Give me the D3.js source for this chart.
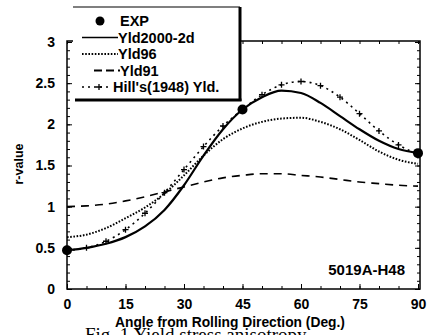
<!DOCTYPE html>
<html>
<head>
<meta charset="utf-8">
<script src="https://cdn.jsdelivr.net/npm/d3@7"></script>
<style>
  html, body { margin: 0; padding: 0; background: #fff; }
  svg { display: block; }
  text { font-family: "Liberation Sans", Arial, sans-serif; font-weight: bold; fill: #000; }
</style>
</head>
<body>
<div id="chart"></div>
<script>
// angles (deg from rolling direction)
const angles = [0, 5, 10, 15, 20, 25, 30, 35, 40, 45, 50, 55, 60, 65, 70, 75, 80, 85, 90];

const yld2000 = [0.47, 0.50, 0.55, 0.63, 0.76, 0.96, 1.26, 1.62, 1.94, 2.18, 2.33, 2.41, 2.38, 2.26, 2.10, 1.94, 1.80, 1.70, 1.65];
const yld96   = [0.63, 0.66, 0.74, 0.86, 0.99, 1.16, 1.38, 1.62, 1.82, 1.95, 2.03, 2.07, 2.08, 2.03, 1.94, 1.81, 1.67, 1.57, 1.52];
const yld91   = [1.00, 1.01, 1.03, 1.07, 1.12, 1.18, 1.24, 1.30, 1.35, 1.38, 1.40, 1.40, 1.38, 1.36, 1.33, 1.30, 1.28, 1.26, 1.25];
const hill48  = [0.47, 0.50, 0.58, 0.72, 0.92, 1.17, 1.45, 1.73, 1.98, 2.18, 2.36, 2.48, 2.52, 2.47, 2.33, 2.13, 1.92, 1.75, 1.64];

const expAngles = [0, 45, 90];
const expValues = [0.47, 2.18, 1.65];

const xTicks = [0, 15, 30, 45, 60, 75, 90];
const yTicks = [0, 0.5, 1, 1.5, 2, 2.5, 3];

const legendLabels = ['EXP', 'Yld2000-2d', 'Yld96', 'Yld91', "Hill's(1948) Yld."];

const W = 432, H = 335;
const svg = d3.select('#chart').append('svg').attr('width', W).attr('height', H);

const x = d3.scaleLinear().domain([0, 90]).range([67, 418]);
const y = d3.scaleLinear().domain([0, 3]).range([289, 42]);

const frame = { left: 67, right: 420, top: 41, bottom: 289 };

// axes with inward ticks
const gx = svg.append('g').attr('transform', `translate(0,${frame.bottom})`)
  .call(d3.axisBottom(x).tickValues(xTicks).tickSize(-5).tickPadding(10).tickFormat(d3.format('d')));
svg.append('g').attr('transform', `translate(0,${frame.bottom})`)
  .call(d3.axisBottom(x).tickValues(d3.range(0, 91, 5)).tickSize(-3).tickFormat(''));
const gy = svg.append('g').attr('transform', `translate(${frame.left},0)`)
  .call(d3.axisLeft(y).tickValues(yTicks).tickSize(-5).tickPadding(12).tickFormat(d => d));
svg.append('g').attr('transform', `translate(${frame.left},0)`)
  .call(d3.axisLeft(y).tickValues(d3.range(0, 3.01, 0.1)).tickSize(-3).tickFormat(''));
svg.append('g').attr('transform', `translate(${frame.right},0)`)
  .call(d3.axisRight(y).tickValues(yTicks).tickSize(-5).tickFormat(''));
svg.append('g').attr('transform', `translate(${frame.right},0)`)
  .call(d3.axisRight(y).tickValues(d3.range(0, 3.01, 0.1)).tickSize(-3).tickFormat(''));
svg.append('g').attr('transform', `translate(0,${frame.top})`)
  .call(d3.axisTop(x).tickValues(d3.range(0, 91, 5)).tickSize(-3).tickFormat(''));

svg.selectAll('.domain').remove();
svg.selectAll('.tick line').attr('stroke', '#000').attr('stroke-width', 1);
[gx, gy].forEach(g => g.selectAll('text')
  .attr('font-size', 14)
  .attr('font-family', '"Liberation Sans", Arial, sans-serif')
  .attr('font-weight', 'bold'));

// frame
svg.append('rect')
  .attr('x', frame.left).attr('y', frame.top)
  .attr('width', frame.right - frame.left).attr('height', frame.bottom - frame.top)
  .attr('fill', 'none').attr('stroke', '#000').attr('stroke-width', 1.5);

// curves
const line = d3.line()
  .x((d, i) => x(angles[i]))
  .y(d => y(d))
  .curve(d3.curveMonotoneX);

svg.append('path').attr('d', line(yld91)).attr('fill', 'none')
  .attr('stroke', '#000').attr('stroke-width', 1.6).attr('stroke-dasharray', '8,6');
svg.append('path').attr('d', line(yld96)).attr('fill', 'none')
  .attr('stroke', '#000').attr('stroke-width', 2).attr('stroke-dasharray', '1.6,1.6');
svg.append('path').attr('d', line(hill48)).attr('fill', 'none')
  .attr('stroke', '#000').attr('stroke-width', 1.6).attr('stroke-dasharray', '2,4');
svg.append('path').attr('d', line(yld2000)).attr('fill', 'none')
  .attr('stroke', '#000').attr('stroke-width', 2.2);

// plus markers on Hill's curve
svg.selectAll('.hill-pt')
  .data(hill48.slice(1, -1))
  .enter().append('path')
  .attr('class', 'hill-pt')
  .attr('transform', (d, i) => `translate(${x(angles[i + 1])},${y(d)})`)
  .attr('d', 'M-3,0H3M0,-3V3')
  .attr('stroke', '#000').attr('stroke-width', 1.3).attr('fill', 'none');

// EXP points
svg.selectAll('.exp')
  .data(expValues)
  .enter().append('circle')
  .attr('cx', (d, i) => x(expAngles[i]))
  .attr('cy', d => y(d))
  .attr('r', 5)
  .attr('fill', '#000');

// legend box
const lg = svg.append('g');
lg.append('rect').attr('x', 73).attr('y', 7).attr('width', 167).attr('height', 93).attr('fill', '#fff');
lg.append('line').attr('x1', 73).attr('x2', 240).attr('y1', 7).attr('y2', 7).attr('stroke', '#000').attr('stroke-width', 1.2);
lg.append('line').attr('x1', 240).attr('x2', 240).attr('y1', 7).attr('y2', 101).attr('stroke', '#000').attr('stroke-width', 3);
lg.append('line').attr('x1', 75).attr('x2', 241.5).attr('y1', 100).attr('y2', 100).attr('stroke', '#000').attr('stroke-width', 3);

const rowY = i => 21 + i * 16.5;
const textX = [120, 118, 118, 120, 113];
lg.selectAll('.lt').data(legendLabels).enter().append('text')
  .attr('x', (d, i) => textX[i]).attr('y', (d, i) => rowY(i) + 5)
  .attr('font-size', 14.5)
  .text(d => d);

lg.append('circle').attr('cx', 100).attr('cy', rowY(0)).attr('r', 4.5).attr('fill', '#000');
lg.append('line').attr('x1', 82).attr('x2', 118).attr('y1', rowY(1)).attr('y2', rowY(1))
  .attr('stroke', '#000').attr('stroke-width', 1.6);
lg.append('line').attr('x1', 82).attr('x2', 118).attr('y1', rowY(2)).attr('y2', rowY(2))
  .attr('stroke', '#000').attr('stroke-width', 2).attr('stroke-dasharray', '1.6,1.6');
lg.append('line').attr('x1', 94).attr('x2', 120).attr('y1', rowY(3)).attr('y2', rowY(3))
  .attr('stroke', '#000').attr('stroke-width', 1.8).attr('stroke-dasharray', '8,4');
lg.append('line').attr('x1', 82).attr('x2', 112).attr('y1', rowY(4)).attr('y2', rowY(4))
  .attr('stroke', '#000').attr('stroke-width', 1.6).attr('stroke-dasharray', '2,4');
lg.append('path').attr('transform', `translate(99,${rowY(4)})`).attr('d', 'M-3,0H3M0,-3V3')
  .attr('stroke', '#000').attr('stroke-width', 1.3);

// annotations
svg.append('text').attr('x', 405).attr('y', 275).attr('text-anchor', 'end')
  .attr('font-size', 15).text('5019A-H48');

svg.append('text')
  .attr('transform', 'translate(23,164) rotate(-90)')
  .attr('text-anchor', 'middle').attr('font-size', 12.5).text('r-value');

svg.append('text').attr('x', 230).attr('y', 327).attr('text-anchor', 'middle')
  .attr('font-size', 13.8).text('Angle from Rolling Direction (Deg.)');

svg.append('text').attr('x', 85).attr('y', 341)
  .style('font-family', '"Liberation Serif", "Times New Roman", serif')
  .style('font-weight', 'normal')
  .attr('font-size', 19).text('Fig. 1 Yield stress anisotropy');
</script>
</body>
</html>
